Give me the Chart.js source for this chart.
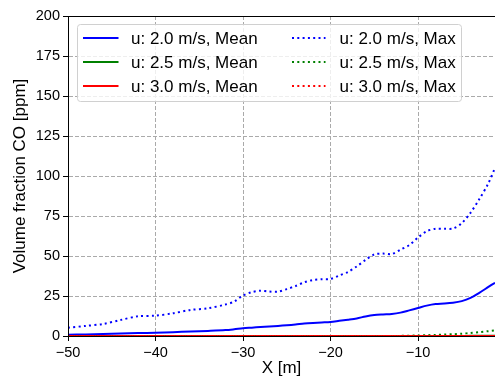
<!DOCTYPE html>
<html>
<head>
<meta charset="utf-8">
<script src="https://cdn.jsdelivr.net/npm/chart.js@4.4.1/dist/chart.umd.min.js"></script>
<style>
  html, body { margin: 0; padding: 0; background: #fff; }
</style>
</head>
<body>
<canvas id="chart" width="495" height="378"></canvas>
<script>
// x positions [m]
const xs = [-50, -48, -46, -44, -42, -40, -38, -36, -34, -32, -31, -30, -29, -28, -27, -26, -25, -24, -23, -22, -21,
            -20, -19, -18, -17, -16, -15, -14, -13, -12, -11, -10, -9, -8, -7, -6, -5, -4, -3, -2, -1.2];

// volume fraction CO [ppm]
const mean20 = [0.8, 1.0, 1.2, 1.5, 1.8, 2.0, 2.4, 2.8, 3.2, 3.7, 4.2, 4.8, 5.2, 5.6, 5.9, 6.3, 6.7, 7.2, 7.8, 8.2, 8.5,
                8.8, 9.5, 10.2, 11.0, 12.2, 13.1, 13.5, 13.8, 14.6, 16.0, 17.5, 19.0, 20.0, 20.3, 20.8, 21.8, 23.8, 27.0, 30.5, 33.3];
const mean25 = [0, 0, 0, 0, 0, 0, 0, 0, 0, 0, 0, 0, 0, 0, 0, 0, 0, 0, 0, 0, 0,
                0, 0, 0, 0, 0, 0, 0, 0, 0, 0, 0, 0, 0, 0, 0.05, 0.05, 0.1, 0.1, 0.15, 0.2];
const mean30 = [0, 0, 0, 0, 0, 0, 0, 0, 0, 0, 0, 0, 0, 0, 0, 0, 0, 0, 0, 0, 0,
                0, 0, 0, 0, 0, 0, 0, 0, 0, 0, 0, 0, 0, 0, 0, 0, 0, 0, 0, 0];
const max20 = [5.2, 6.3, 7.5, 10.0, 12.3, 12.7, 14.2, 16.3, 17.3, 19.7, 21.5, 25.3, 27.4, 28.3, 27.8, 27.7, 29.3, 31.2, 33.5, 35.0, 35.5,
               35.6, 37.8, 40.0, 43.5, 47.5, 51.0, 51.5, 51.2, 54.0, 56.8, 61.5, 65.5, 67.0, 67.0, 67.2, 70.5, 77.0, 85.5, 95.0, 105.0];
const max25 = [0, 0, 0, 0, 0, 0, 0, 0, 0, 0, 0, 0, 0, 0, 0, 0, 0, 0, 0, 0, 0,
               0, 0, 0, 0, 0, 0, 0, 0, 0.1, 0.2, 0.3, 0.5, 0.7, 0.9, 1.1, 1.4, 1.9, 2.4, 3.0, 3.5];
const max30 = [0, 0, 0, 0, 0, 0, 0, 0, 0, 0, 0, 0, 0, 0, 0, 0, 0, 0, 0, 0, 0,
               0, 0, 0, 0, 0, 0, 0, 0, 0, 0, 0, 0, 0, 0, 0, 0, 0, 0, 0, 0];

const labels = ['u: 2.0 m/s, Mean', 'u: 2.5 m/s, Mean', 'u: 3.0 m/s, Mean',
                'u: 2.0 m/s, Max', 'u: 2.5 m/s, Max', 'u: 3.0 m/s, Max'];
const colors = ['#0000ff', '#008000', '#ff0000', '#0000ff', '#008000', '#ff0000'];
const series = [mean20, mean25, mean30, max20, max25, max30];

const FONT = '"Liberation Sans", Arial, sans-serif';
const DOTS = [2, 3.3];

const datasets = series.map((vals, i) => ({
  label: labels[i],
  data: xs.map((x, j) => ({ x: x, y: vals[j] })),
  borderColor: colors[i],
  borderWidth: 2,
  borderDash: i < 3 ? [] : DOTS,
  pointRadius: 0,
  tension: 0.3,
  fill: false,
  clip: 0,
  order: series.length - i
}));

const fmt = v => (v < 0 ? '\u2212' + Math.abs(v) : String(v));

// matplotlib style legend, two columns, top left inside the axes
const legendBox = {
  id: 'legendBox',
  afterDraw(chart) {
    const ctx = chart.ctx;
    const a = chart.chartArea;
    const bx = a.left + 9.5, by = a.top + 8.5, bw = 384, bh = 77;

    // top spine
    ctx.save();
    ctx.strokeStyle = '#000';
    ctx.lineWidth = 1;
    ctx.beginPath();
    ctx.moveTo(a.left, a.top + 0.5);
    ctx.lineTo(a.right, a.top + 0.5);
    ctx.stroke();

    ctx.fillStyle = 'rgba(255,255,255,0.8)';
    ctx.strokeStyle = '#d0d0d0';
    ctx.beginPath();
    ctx.roundRect(bx, by, bw, bh, 3);
    ctx.fill();
    ctx.stroke();

    ctx.font = '17px ' + FONT;
    ctx.textBaseline = 'middle';
    ctx.fillStyle = '#000';
    const rows = [13.5, 37.5, 61.5];
    const cols = [{ l0: 5.5, l1: 41, t: 53.5 }, { l0: 214.5, l1: 248, t: 262 }];
    chart.data.datasets.forEach((ds, i) => {
      const c = cols[Math.floor(i / 3)];
      const y = by + rows[i % 3];
      ctx.strokeStyle = ds.borderColor;
      ctx.lineWidth = 2;
      ctx.setLineDash(ds.borderDash);
      ctx.beginPath();
      ctx.moveTo(bx + c.l0, y);
      ctx.lineTo(bx + c.l1, y);
      ctx.stroke();
      ctx.setLineDash([]);
      ctx.fillText(ds.label, bx + c.t, y + 1);
    });
    ctx.restore();
  }
};

new Chart(document.getElementById('chart'), {
  type: 'line',
  data: { datasets: datasets },
  options: {
    responsive: false,
    animation: false,
    devicePixelRatio: 1,
    layout: { padding: { top: 16, right: 0, bottom: 0, left: 0 } },
    plugins: { legend: { display: false }, tooltip: { enabled: false } },
    scales: {
      x: {
        type: 'linear',
        min: -50,
        max: -1.2,
        afterFit: s => { s.height = 42; },
        ticks: {
          stepSize: 10,
          includeBounds: false,
          padding: 3,
          color: '#000',
          font: { family: FONT, size: 14.5 },
          callback: fmt,
          maxRotation: 0
        },
        grid: { color: '#aaaaaa', lineWidth: 1, tickLength: 5, tickColor: '#000', tickWidth: 1, tickBorderDash: [] },
        border: { display: true, color: '#000', width: 1, dash: [4, 2], z: 1 },
        title: { display: true, text: 'X [m]', color: '#000', font: { family: FONT, size: 17 }, padding: { top: 0, bottom: -1 } }
      },
      y: {
        min: 0,
        max: 200,
        afterFit: s => { s.width = 68; },
        ticks: {
          stepSize: 25,
          padding: 3,
          color: '#000',
          font: { family: FONT, size: 14.5 },
          callback: fmt
        },
        grid: { color: '#aaaaaa', lineWidth: 1, tickLength: 5, tickColor: '#000', tickWidth: 1, tickBorderDash: [] },
        border: { display: true, color: '#000', width: 1, dash: [4, 2], z: 1 },
        title: { display: true, text: 'Volume fraction CO [ppm]', color: '#000', font: { family: FONT, size: 17 }, padding: { top: 10, bottom: 0 } }
      }
    }
  },
  plugins: [legendBox]
});
</script>
</body>
</html>
